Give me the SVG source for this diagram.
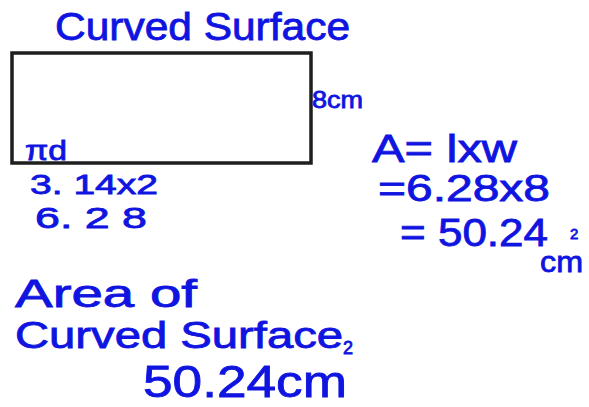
<svg xmlns="http://www.w3.org/2000/svg" width="589" height="407" viewBox="0 0 589 407">
<style>
.h{fill:#0f14e0;font-family:"Liberation Sans","DejaVu Sans",sans-serif;stroke:#0f14e0;stroke-width:0.8}
</style>
<rect width="589" height="407" fill="#ffffff"/>
<g id="shape">
<rect x="12" y="53" width="299" height="110" fill="#ffffff" stroke="#1e1e1e" stroke-width="3.5"/>
</g>
<g id="labels">
<text class="h" x="55" y="40" font-size="38" textLength="295" lengthAdjust="spacingAndGlyphs">Curved Surface</text>
<text class="h" x="312" y="108" font-size="24" textLength="51" lengthAdjust="spacingAndGlyphs">8cm</text>
<text class="h" x="25" y="160" font-size="28" textLength="42" lengthAdjust="spacingAndGlyphs">πd</text>
<text class="h" x="30" y="194" font-size="28" textLength="128" lengthAdjust="spacingAndGlyphs">3. 14x2</text>
<text class="h" x="35" y="228" font-size="30" textLength="112" lengthAdjust="spacingAndGlyphs">6. 2 8</text>
<text class="h" x="372" y="162" font-size="38" textLength="145" lengthAdjust="spacingAndGlyphs">A= lxw</text>
<text class="h" x="378" y="201" font-size="36" textLength="172" lengthAdjust="spacingAndGlyphs">=6.28x8</text>
<text class="h" x="400" y="246" font-size="38" textLength="148" lengthAdjust="spacingAndGlyphs">= 50.24</text>
<text class="h" x="570" y="239" font-size="15">2</text>
<text class="h" x="540" y="272" font-size="30" textLength="43" lengthAdjust="spacingAndGlyphs">cm</text>
<text class="h" x="15" y="307" font-size="38" textLength="182" lengthAdjust="spacingAndGlyphs">Area  of</text>
<text class="h" x="15" y="348" font-size="36" textLength="328" lengthAdjust="spacingAndGlyphs">Curved Surface</text>
<text class="h" x="343" y="354" font-size="18">2</text>
<text class="h" x="143" y="397" font-size="44" textLength="204" lengthAdjust="spacingAndGlyphs">50.24cm</text>
</g>
</svg>
